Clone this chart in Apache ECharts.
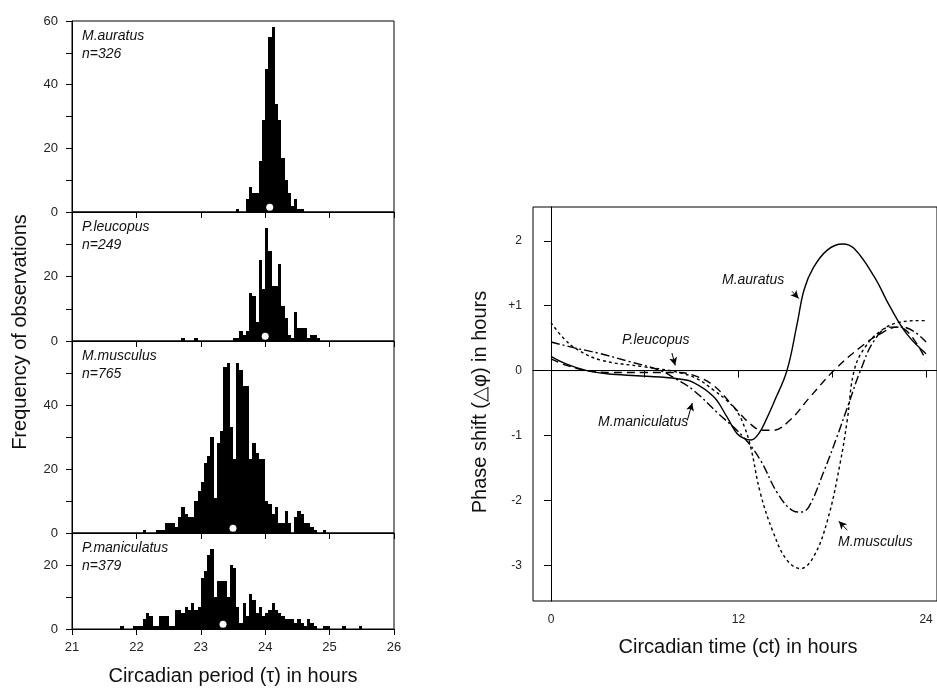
<!DOCTYPE html>
<html><head><meta charset="utf-8">
<script src="https://cdn.jsdelivr.net/npm/echarts@6/dist/echarts.min.js"></script>
<style>html,body{margin:0;padding:0;background:#fff}#c{width:937px;height:689px}</style>
</head><body><div id="c"></div>
<script>
// ---------- Histogram data (bin width 0.05 h) ----------
const BIN = 0.05;
const speciesNames = ['M.auratus', 'P.leucopus', 'M.musculus', 'P.maniculatus'];
const speciesN = ['n=326', 'n=249', 'n=765', 'n=379'];

const auratusStart = 23.55;
const auratusCounts = [1,0,0,4,8,6,6,16,29,45,55,58,34,29,17,10,6,2,4,1,1];

const leucopusStart = 22.70;
const leucopusCounts = [1,0,0,0,1,0,0,0,0,0,0,0,0,0,0,0,
  1,1,3,2,3,15,14,6,25,16,35,28,17,17,24,11,7,2,1,9,4,4,4,1,2,2,1];

const musculusStart = 22.10;
const musculusCounts = [1,0,0,0,1,1,1,3,3,3,2,5,8,6,5,5,
  10,13,16,22,24,30,11,28,32,52,53,33,23,53,51,46,46,23,28,25,23,23,
  10,9,6,8,3,3,7,3,0,5,7,6,3,3,2,1,0,0,1];

const maniculatusStart = 21.75;
const maniculatusCounts = [1,0,0,0,1,1,1,3,5,4,1,1,4,4,4,1,1,6,6,5,7,6,8,6,7,
  16,18,23,25,10,15,15,15,10,20,19,7,2,8,4,11,9,5,7,4,
  5,6,8,6,5,4,3,3,3,2,3,2,1,3,2,1,0,0,1,1,0,0,0,0,1,0,0,0,0,1];

// mean period (white dots)
const meanPeriods = [24.07, 24.0, 23.5, 23.345];
const meanDotLevel = 1.5;

// ---------- Phase response curves [ct (h), phase shift (h)] ----------
const auratusPRC = [[0,0.22],[1,0.1],[2.3,0.0],[3.6,-0.05],[5.5,-0.08],[7,-0.1],[8.2,-0.13],[9.1,-0.18],[10.4,-0.4],
  [11.25,-0.71],[11.9,-0.97],[12.4,-1.05],[12.8,-1.07],[13.3,-0.97],[13.8,-0.74],[14.3,-0.47],[15.1,0.0],
  [15.75,0.72],[16.2,1.25],[16.8,1.59],[17.7,1.86],[18.65,1.95],[19.4,1.88],[20.7,1.44],[21.7,0.98],[22.75,0.57],[24,0.26]];
const leucopusPRC = [[0,0.18],[1,0.08],[2.3,0.0],[4,-0.03],[6,-0.03],[8,-0.03],[9.1,-0.07],[10.4,-0.23],[11.7,-0.56],
  [12.75,-0.82],[13.5,-0.92],[14.2,-0.92],[15.3,-0.76],[16.6,-0.4],[18.1,0.0],[19.8,0.36],[21.1,0.57],[22.2,0.67],[23,0.55],[24,0.16]];
const musculusPRC = [[0,0.74],[0.8,0.5],[1.65,0.33],[3.2,0.16],[5.9,0.06],[8,-0.02],[9.3,-0.12],[10.4,-0.3],[11.2,-0.45],
  [11.9,-0.63],[12.4,-0.88],[12.8,-1.2],[13.4,-1.89],[14.25,-2.51],[15.1,-2.92],[15.96,-3.05],[16.8,-2.87],[17.7,-2.3],
  [18.5,-1.43],[18.96,-0.76],[19.4,0.0],[20.1,0.36],[21.15,0.62],[22.4,0.75],[23.7,0.77],[24,0.77]];
const maniculatusPRC = [[0,0.44],[1.5,0.35],[3,0.27],[5,0.14],[7,0.0],[8,-0.13],[9.1,-0.3],[10.7,-0.66],[12.3,-1.02],
  [13.4,-1.38],[14.5,-1.89],[15.5,-2.16],[16.0,-2.18],[16.5,-2.1],[17.5,-1.53],[18.3,-1.02],[19.05,-0.51],[19.8,0.0],
  [20.7,0.47],[21.7,0.67],[22.5,0.67],[24,0.44]];

// ---------- tick labels ----------
const ctTicks = [0, 6, 12, 18, 24];
const ctLabels = [0, 12, 24];
const shiftLabels = [-3, -2, -1, 0, 1, 2];

// ---------- build ----------
const FONT = "'Liberation Sans', Arial, sans-serif";
const hists = [
  [auratusStart, auratusCounts], [leucopusStart, leucopusCounts],
  [musculusStart, musculusCounts], [maniculatusStart, maniculatusCounts]
];
const panelMax = [60, 40, 60, 30];
const panelLabels = [[0,20,40,60],[0,20],[0,20,40],[0,20]];
const panelTop = [21, 212, 341, 533];
const panelBottom = [212, 341, 533, 629];

function binData(start, counts) {
  return counts.map((c, i) => [+(start + i * BIN).toFixed(2), c]);
}
function renderBar(params, api) {
  const x0 = api.value(0), v = api.value(1);
  if (!v) return null;
  const p0 = api.coord([x0, v]);
  const p1 = api.coord([x0 + BIN, 0]);
  const xa = Math.round(p0[0]), xb = Math.round(p1[0]);
  const ya = Math.round(p0[1]), yb = Math.round(p1[1]);
  return { type: 'rect',
    shape: { x: xa, y: ya, width: xb - xa, height: yb - ya },
    style: { fill: '#000' } };
}

const grids = [], xAxes = [], yAxes = [], series = [], graphics = [];
for (let i = 0; i < 4; i++) {
  grids.push({ left: 72, width: 322, top: panelTop[i], height: panelBottom[i] - panelTop[i],
    show: true, borderColor: '#000', borderWidth: 1, backgroundColor: 'transparent' });
  xAxes.push({ gridIndex: i, type: 'value', min: 21, max: 26, interval: 1,
    axisLine: { show: true, lineStyle: { color: '#000', width: 1 } },
    axisTick: { show: true, length: 6, lineStyle: { color: '#000' } },
    axisLabel: { show: i === 3, fontSize: 13, color: '#222', margin: 12, fontFamily: FONT },
    splitLine: { show: false } });
  yAxes.push({ gridIndex: i, type: 'value', min: 0, max: panelMax[i], interval: 10,
    axisLine: { show: true, lineStyle: { color: '#000', width: 1 } },
    axisTick: { show: true, length: 6, lineStyle: { color: '#000' } },
    axisLabel: { customValues: panelLabels[i], fontSize: 13, color: '#222', margin: 14, fontFamily: FONT },
    splitLine: { show: false } });
  series.push({ type: 'custom', xAxisIndex: i, yAxisIndex: i, renderItem: renderBar,
    data: binData(hists[i][0], hists[i][1]), silent: true, z: 2 });
  series.push({ type: 'scatter', xAxisIndex: i, yAxisIndex: i, symbol: 'circle', symbolSize: 7,
    itemStyle: { color: '#fff', opacity: 1 }, data: [[meanPeriods[i], meanDotLevel]], z: 5, silent: true });
  graphics.push({ type: 'text', left: 82, top: panelTop[i] + 6,
    style: { text: speciesNames[i] + '\n' + speciesN[i], font: 'italic 14px ' + FONT, fill: '#111', lineHeight: 18 } });
}

// right chart
grids.push({ left: 533, top: 207, right: -20, height: 394, show: true, borderColor: '#000', borderWidth: 1 });
xAxes.push({ gridIndex: 4, type: 'value', min: -1.15, max: 24.7,
  axisLine: { show: true, lineStyle: { color: '#000' } },
  axisTick: { show: true, length: 7, customValues: ctTicks, lineStyle: { color: '#000' } },
  axisLabel: { customValues: ctLabels, fontSize: 12, color: '#222', margin: 13, fontFamily: FONT },
  splitLine: { show: false } });
yAxes.push({ gridIndex: 4, type: 'value', min: -3.55, max: 2.52,
  axisLine: { show: true, lineStyle: { color: '#000' } },
  axisTick: { show: true, length: 7, customValues: shiftLabels, lineStyle: { color: '#000' } },
  axisLabel: { customValues: shiftLabels, fontSize: 12, color: '#222', margin: 11, fontFamily: FONT,
    formatter: v => (v === 1 ? '+1' : String(v)) },
  splitLine: { show: false } });

const arrowLine = (a, b) => ({
  silent: true, symbol: ['none', 'arrow'], symbolSize: [6, 8], label: { show: false },
  lineStyle: { type: 'solid', color: '#000', width: 1 },
  data: [[{ coord: a }, { coord: b }]] });

const prc = [
  [auratusPRC, 'solid', [[15.43, 1.22], [15.85, 1.11]]],
  [leucopusPRC, [8, 5], [[7.74, 0.27], [7.95, 0.08]]],
  [musculusPRC, [3, 3], [[18.96, -2.46], [18.42, -2.32]]],
  [maniculatusPRC, [9, 3, 2, 3], [[8.72, -0.77], [9.04, -0.5]]]
];
series.push({ type: 'line', xAxisIndex: 4, yAxisIndex: 4, data: [[0, 0], [24, 0]], showSymbol: false,
  lineStyle: { color: '#000', width: 1 }, silent: true });
prc.forEach(([d, t, arr]) => {
  series.push({ type: 'line', xAxisIndex: 4, yAxisIndex: 4, data: d, smooth: 0.4, showSymbol: false,
    lineStyle: { color: '#000', width: 1.4, type: t }, silent: true, markLine: arrowLine(arr[0], arr[1]) });
});

graphics.push(
  { type: 'text', left: 722, top: 273, style: { text: 'M.auratus', font: 'italic 14px ' + FONT, fill: '#111' } },
  { type: 'text', left: 622, top: 333, style: { text: 'P.leucopus', font: 'italic 14px ' + FONT, fill: '#111' } },
  { type: 'text', left: 598, top: 415, style: { text: 'M.maniculatus', font: 'italic 14px ' + FONT, fill: '#111' } },
  { type: 'text', left: 838, top: 535, style: { text: 'M.musculus', font: 'italic 14px ' + FONT, fill: '#111' } },
  { type: 'text', x: 20, y: 332, rotation: Math.PI / 2,
    style: { text: 'Frequency of observations', font: '20px ' + FONT, fill: '#111', align: 'center', verticalAlign: 'middle' } },
  { type: 'text', x: 233, y: 676,
    style: { text: 'Circadian period (τ) in hours', font: '20px ' + FONT, fill: '#111', align: 'center', verticalAlign: 'middle' } },
  { type: 'text', x: 480, y: 402, rotation: Math.PI / 2,
    style: { text: 'Phase shift (△φ) in hours', font: '20px ' + FONT, fill: '#111', align: 'center', verticalAlign: 'middle' } },
  { type: 'text', x: 738, y: 647,
    style: { text: 'Circadian time (ct) in hours', font: '20px ' + FONT, fill: '#111', align: 'center', verticalAlign: 'middle' } }
);

const chart = echarts.init(document.getElementById('c'), null, { renderer: 'canvas' });
chart.setOption({
  backgroundColor: '#fff', animation: false,
  grid: grids, xAxis: xAxes, yAxis: yAxes, series: series, graphic: graphics
});
</script></body></html>
